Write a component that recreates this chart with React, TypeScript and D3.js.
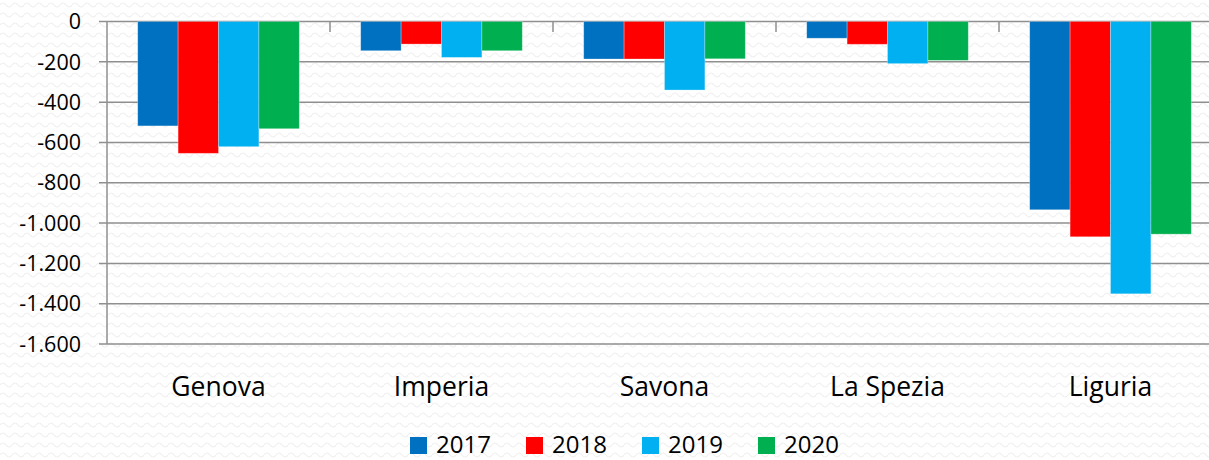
import React, { useEffect, useRef } from "react";
import * as d3 from "d3";

const categories = ["Genova", "Imperia", "Savona", "La Spezia", "Liguria"];
const years = ["2017", "2018", "2019", "2020"];
const colors = ["#0070C0", "#FF0000", "#00B0F0", "#00B050"];

const values2017 = [-518, -145, -186, -83, -934];
const values2018 = [-654, -112, -186, -113, -1068];
const values2019 = [-621, -178, -340, -209, -1351];
const values2020 = [-532, -145, -185, -193, -1055];

const yTicks = [0, -200, -400, -600, -800, -1000, -1200, -1400, -1600];

const App: React.FC = () => {
  const svgRef = useRef<SVGSVGElement>(null);
  const width = 1209;
  const height = 460;

  useEffect(() => {
    document.body.style.margin = "0";
    if (!svgRef.current) return;
    const svg = d3.select(svgRef.current);
    svg.selectAll("*").remove();

    const series = [values2017, values2018, values2019, values2020];
    const font = "'Open Sans', sans-serif";

    // faint wavy background, like the original slide
    const defs = svg.append("defs");
    const pat = defs
      .append("pattern")
      .attr("id", "waves")
      .attr("width", 12)
      .attr("height", 10)
      .attr("patternUnits", "userSpaceOnUse");
    pat
      .append("path")
      .attr("d", "M0 5 Q3 1 6 5 T12 5")
      .attr("fill", "none")
      .attr("stroke", "#efefef")
      .attr("stroke-width", 1.2);
    svg.append("rect").attr("width", width).attr("height", height).attr("fill", "#fff");
    svg.append("rect").attr("width", width).attr("height", height).attr("fill", "url(#waves)");

    const x = d3.scaleBand<string>().domain(categories).range([107, 1222]).padding(0);
    const xInner = d3
      .scaleBand<string>()
      .domain(years)
      .range([x.bandwidth() * 0.1377, x.bandwidth() * 0.8623])
      .padding(0);
    const y = d3.scaleLinear().domain([-1600, 0]).range([344, 21.5]);

    const fmt = (v: number) =>
      d3.format(",")(v).replace(/,/g, ".").replace("−", "-");

    // gridlines
    svg
      .append("g")
      .selectAll("line")
      .data(yTicks)
      .enter()
      .append("line")
      .attr("x1", 99)
      .attr("x2", width)
      .attr("y1", (d) => y(d))
      .attr("y2", (d) => y(d))
      .attr("stroke", "#8f8f8f")
      .attr("stroke-width", 1.5);

    // y labels
    svg
      .append("g")
      .selectAll("text")
      .data(yTicks)
      .enter()
      .append("text")
      .attr("x", 81)
      .attr("y", (d) => y(d))
      .attr("dy", "0.36em")
      .attr("text-anchor", "end")
      .style("font-family", font)
      .style("font-size", "21.5px")
      .style("fill", "#000")
      .text((d) => fmt(d));

    // bars
    const groups = svg
      .append("g")
      .selectAll("g")
      .data(categories)
      .enter()
      .append("g")
      .attr("transform", (d) => `translate(${x(d)},0)`);

    groups
      .selectAll("rect")
      .data((_, ci) => years.map((yr, si) => ({ yr, si, v: series[si][ci] })))
      .enter()
      .append("rect")
      .attr("x", (d) => xInner(d.yr)!)
      .attr("width", xInner.bandwidth())
      .attr("y", y(0))
      .attr("height", (d) => y(d.v) - y(0))
      .attr("fill", (d) => colors[d.si])
      .attr("stroke", "rgba(255,255,255,0.35)")
      .attr("stroke-width", 0.8);

    // axis lines
    svg
      .append("line")
      .attr("x1", 107)
      .attr("x2", 107)
      .attr("y1", y(0))
      .attr("y2", y(-1600))
      .attr("stroke", "#8f8f8f")
      .attr("stroke-width", 1.5);

    svg
      .append("g")
      .selectAll("line")
      .data(categories.slice(1))
      .enter()
      .append("line")
      .attr("x1", (d) => x(d)!)
      .attr("x2", (d) => x(d)!)
      .attr("y1", y(0))
      .attr("y2", y(0) + 10.5)
      .attr("stroke", "#8f8f8f")
      .attr("stroke-width", 1.5);

    // category labels
    svg
      .append("g")
      .selectAll("text")
      .data(categories)
      .enter()
      .append("text")
      .attr("x", (d) => x(d)! + x.bandwidth() / 2)
      .attr("y", 396)
      .attr("text-anchor", "middle")
      .style("font-family", font)
      .style("font-size", "26.5px")
      .style("fill", "#000")
      .text((d) => d);

    // legend
    const step = 116;
    const legendX = 410;
    const legend = svg
      .append("g")
      .selectAll("g")
      .data(years)
      .enter()
      .append("g")
      .attr("transform", (_, i) => `translate(${legendX + i * step},0)`);
    legend
      .append("rect")
      .attr("x", 0)
      .attr("y", 437)
      .attr("width", 17)
      .attr("height", 17)
      .attr("fill", (_, i) => colors[i]);
    legend
      .append("text")
      .attr("x", 26)
      .attr("y", 453)
      .style("font-family", font)
      .style("font-size", "24px")
      .style("fill", "#000")
      .text((d) => d);
  }, []);

  return (
    <svg
      ref={svgRef}
      width={width}
      height={height}
      viewBox={`0 0 ${width} ${height}`}
      style={{ display: "block" }}
    />
  );
};

export default App;
